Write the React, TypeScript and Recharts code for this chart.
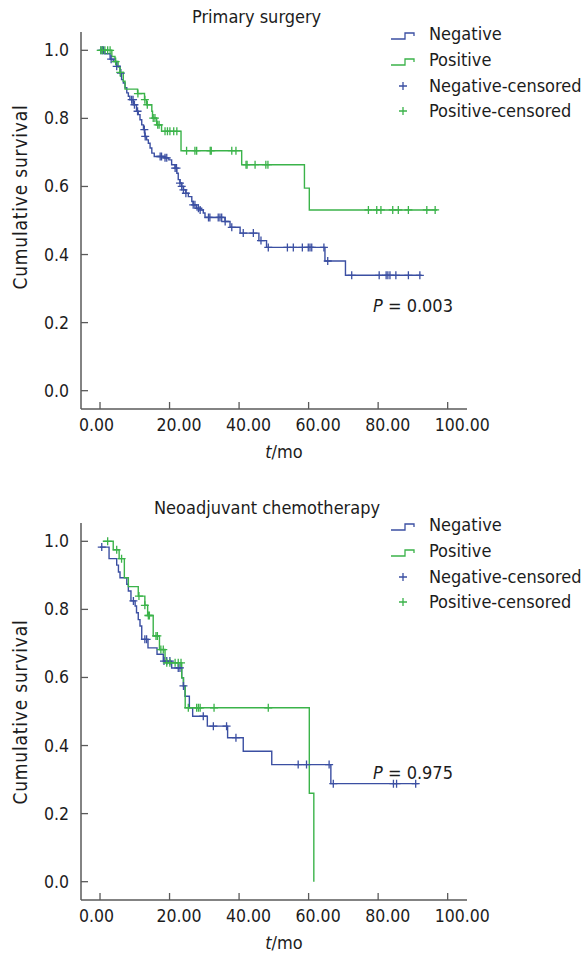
import React from 'react';
import { ComposedChart, Line, Scatter, XAxis, YAxis, Legend, Customized } from 'recharts';

const BLUE = '#3b4fa2';
const GREEN = '#3bb34a';
const AXIS = '#5a5a5a';
const INK = '#1c1c1c';
const FONT = "'DejaVu Sans Condensed', 'Liberation Sans', sans-serif";

const xTicks = [0, 20, 40, 60, 80, 100];
const yTicks = [0, 0.2, 0.4, 0.6, 0.8, 1.0];
const legendLabels = ['Negative', 'Positive', 'Negative-censored', 'Positive-censored'];

// ---------- Primary surgery ----------
const psNegTimes = [0, 1.4, 2.9, 3.8, 4.8, 5.75, 6.2, 6.7, 7.2, 7.7, 8.15, 8.6, 9.6, 10.5, 11.0, 11.5, 12.0, 12.5, 12.9, 13.4, 13.9, 14.4, 14.9, 15.6, 18.7, 19.8, 20.6, 21.6, 22.1, 22.5, 23.0, 23.5, 24.0, 24.7, 25.4, 26.4, 26.8, 27.8, 28.8, 29.7, 30.2, 35.95, 37.4, 40.3, 45.7, 47.9, 64.7, 70.6];
const psNegSurv = [1.0, 0.99, 0.974, 0.967, 0.953, 0.933, 0.914, 0.904, 0.89, 0.875, 0.865, 0.855, 0.84, 0.821, 0.811, 0.796, 0.781, 0.767, 0.747, 0.737, 0.727, 0.713, 0.698, 0.688, 0.684, 0.678, 0.664, 0.654, 0.639, 0.62, 0.61, 0.6, 0.59, 0.58, 0.57, 0.556, 0.546, 0.536, 0.531, 0.522, 0.509, 0.497, 0.48, 0.463, 0.441, 0.421, 0.381, 0.339];
const psNegEnd = 92.5;
const psNegCensored = [0.3, 0.7, 1.0, 3.2, 4.8, 6.0, 9.1, 9.5, 9.9, 10.8, 12.75, 13.0, 17.3, 17.7, 18.7, 19.2, 21.6, 22.0, 23.0, 23.5, 24.0, 24.7, 26.8, 27.3, 28.3, 28.8, 31.2, 31.6, 34.0, 34.5, 35.0, 36.0, 37.9, 41.2, 44.1, 46.3, 48.4, 53.9, 55.6, 58.2, 59.9, 60.4, 60.9, 64.4, 65.5, 72.4, 80.3, 82.3, 82.8, 83.4, 85.1, 88.7, 92.0];

const psPosTimes = [0, 3.4, 4.3, 5.2, 5.75, 6.7, 7.2, 10.8, 12.8, 13.4, 14.9, 15.1, 16.3, 17.7, 23.3, 40.75, 58.8, 60.2];
const psPosSurv = [1.0, 0.982, 0.967, 0.951, 0.935, 0.909, 0.886, 0.873, 0.855, 0.84, 0.821, 0.801, 0.781, 0.762, 0.705, 0.664, 0.595, 0.531];
const psPosEnd = 97;
const psPosCensored = [0.2, 0.7, 1.4, 2.2, 2.9, 4.5, 5.8, 10.9, 12.9, 13.6, 15.3, 15.8, 16.6, 17.0, 18.7, 19.4, 20.1, 21.2, 22.1, 24.9, 27.3, 27.8, 31.7, 32.0, 37.9, 39.1, 42.0, 42.3, 44.6, 47.7, 48.3, 77.2, 79.6, 80.8, 84.2, 85.8, 88.7, 94.0, 96.4];

// ---------- Neoadjuvant chemotherapy ----------
const neoNegTimes = [0, 2.6, 4.8, 5.3, 5.75, 7.7, 8.15, 8.9, 10.1, 10.5, 11.0, 11.5, 12.0, 13.8, 16.4, 18.2, 20.6, 23.5, 24.0, 24.45, 25.7, 26.65, 30.87, 36.7, 41.2, 49.4, 66.4];
const neoNegSurv = [0.983, 0.949, 0.93, 0.91, 0.893, 0.874, 0.854, 0.825, 0.81, 0.79, 0.77, 0.751, 0.712, 0.687, 0.668, 0.648, 0.628, 0.599, 0.575, 0.545, 0.511, 0.486, 0.457, 0.423, 0.383, 0.344, 0.288];
const neoNegEnd = 91.6;
const neoNegCensored = [0.5, 9.6, 12.9, 13.4, 18.4, 19.2, 20.1, 22.5, 23.0, 24.0, 29.7, 32.6, 36.4, 39.1, 57.0, 59.4, 65.9, 67.1, 84.4, 85.3, 90.8];

const neoPosTimes = [0.8, 3.8, 5.5, 7.0, 8.15, 11.0, 12.9, 13.7, 15.3, 17.1, 18.7, 23.5, 24.0, 24.5, 60.2, 61.5];
const neoPosSurv = [1.0, 0.975, 0.949, 0.893, 0.867, 0.839, 0.812, 0.782, 0.722, 0.682, 0.643, 0.599, 0.575, 0.511, 0.26, 0.0];
const neoPosEnd: number | null = null;
const neoPosCensored = [2.2, 4.8, 6.2, 11.2, 12.9, 13.9, 14.2, 16.1, 16.5, 17.5, 18.2, 19.2, 20.1, 21.6, 22.5, 23.3, 25.4, 27.8, 28.3, 28.8, 32.8, 48.4];

type Pt = { t: number; s: number };

function buildSteps(times: number[], surv: number[], end: number | null): Pt[] {
  const pts = times.map((t, i) => ({ t, s: surv[i] }));
  if (end != null) pts.push({ t: end, s: surv[surv.length - 1] });
  return pts;
}

function buildCensored(cens: number[], times: number[], surv: number[]): Pt[] {
  return cens.map((t) => {
    let s = surv[0];
    for (let i = 0; i < times.length; i++) if (times[i] <= t) s = surv[i];
    return { t, s };
  });
}

const CHART_W = 587;
const CHART_H = 480;

const XTick = (props: any) => {
  const { x, y, payload } = props;
  const v = payload.value as number;
  const dx = v === 0 ? -21 : -13;
  return (
    <g>
      <line x1={x} x2={x} y1={y} y2={y - 7} stroke={AXIS} strokeWidth={1.3} />
      <text x={x + dx} y={y + 22} fontSize={17.5} fill={INK} fontFamily={FONT} textAnchor="start">
        {v.toFixed(2)}
      </text>
    </g>
  );
};

const YTick = (props: any) => {
  const { x, y, payload } = props;
  const v = payload.value as number;
  return (
    <g>
      <line x1={x} x2={x + 7} y1={y} y2={y} stroke={AXIS} strokeWidth={1.3} />
      <text x={x - 12} y={y + 6} fontSize={17.5} fill={INK} fontFamily={FONT} textAnchor="end">
        {v.toFixed(1)}
      </text>
    </g>
  );
};

const plusShape = (color: string) => (props: any) => {
  const { cx, cy } = props;
  if (cx == null || cy == null) return <g />;
  return (
    <path d={`M${cx - 4},${cy}H${cx + 4}M${cx},${cy - 4}V${cy + 4}`} stroke={color} strokeWidth={1.3} fill="none" />
  );
};

const LegendBox = () => {
  const rows = [34, 60, 86, 111];
  const colors = [BLUE, GREEN, BLUE, GREEN];
  return (
    <svg width={207} height={125} style={{ display: 'block', overflow: 'visible' }}>
      {legendLabels.map((label, i) => {
        const cy = rows[i];
        const isLine = i < 2;
        return (
          <g key={label}>
            {isLine ? (
              <path
                d={`M11,${cy + 5}H25V${cy - 1}H34V${cy + 2}`}
                stroke={colors[i]}
                strokeWidth={1.3}
                fill="none"
              />
            ) : (
              <path d={`M19,${cy}H27M23,${cy - 4}V${cy + 4}`} stroke={colors[i]} strokeWidth={1.3} fill="none" />
            )}
            <text x={49} y={cy + 6} fontSize={18} fontFamily={FONT} fill={INK}>
              {label}
            </text>
          </g>
        );
      })}
    </svg>
  );
};

type PanelProps = {
  title: string;
  titleX: number;
  pValue: string;
  pY: number;
  yLabelY: number;
  neg: Pt[];
  pos: Pt[];
  negC: Pt[];
  posC: Pt[];
};

const Panel = ({ title, titleX, pValue, pY, yLabelY, neg, pos, negC, posC }: PanelProps) => (
  <ComposedChart width={CHART_W} height={CHART_H} margin={{ top: 32, right: 120, bottom: 41, left: 21 }}>
    <XAxis
      type="number"
      dataKey="t"
      domain={[-5.47, 105.56]}
      ticks={xTicks}
      allowDataOverflow
      height={30}
      tickSize={0}
      tickMargin={0}
      tickLine={false}
      tick={<XTick />}
      axisLine={{ stroke: AXIS, strokeWidth: 1.5 }}
      interval={0}
    />
    <YAxis
      type="number"
      dataKey="s"
      domain={[-0.0538, 1.0538]}
      ticks={yTicks}
      allowDataOverflow
      width={60}
      tickSize={0}
      tickMargin={0}
      tickLine={false}
      tick={<YTick />}
      axisLine={{ stroke: AXIS, strokeWidth: 1.5 }}
      interval={0}
    />
    <Line data={neg} dataKey="s" type="stepAfter" stroke={BLUE} strokeWidth={1.4} dot={false} activeDot={false} isAnimationActive={false} />
    <Line data={pos} dataKey="s" type="stepAfter" stroke={GREEN} strokeWidth={1.4} dot={false} activeDot={false} isAnimationActive={false} />
    <Scatter data={negC} dataKey="s" shape={plusShape(BLUE)} isAnimationActive={false} />
    <Scatter data={posC} dataKey="s" shape={plusShape(GREEN)} isAnimationActive={false} />
    <Legend
      layout="horizontal"
      verticalAlign="middle"
      align="center"
      content={() => <LegendBox />}
      wrapperStyle={{ position: 'absolute', left: 380, top: 0, width: 207, height: 125 }}
    />
    <Customized
      component={() => (
        <g fontFamily={FONT} fill={INK}>
          <text x={titleX} y={23} fontSize={18}>{title}</text>
          <text
            x={0}
            y={0}
            fontSize={19}
            letterSpacing={0.8}
            textAnchor="middle"
            transform={`translate(27, ${yLabelY}) rotate(-90)`}
          >
            Cumulative survival
          </text>
          <text x={284} y={458} fontSize={18} textAnchor="middle">
            <tspan fontStyle="italic">t</tspan>/mo
          </text>
          <text x={373} y={pY} fontSize={18}>
            <tspan fontStyle="italic">P</tspan> = {pValue}
          </text>
        </g>
      )}
    />
  </ComposedChart>
);

const psNeg = buildSteps(psNegTimes, psNegSurv, psNegEnd);
const psPos = buildSteps(psPosTimes, psPosSurv, psPosEnd);
const psNegC = buildCensored(psNegCensored, psNegTimes, psNegSurv);
const psPosC = buildCensored(psPosCensored, psPosTimes, psPosSurv);

const neoNeg = buildSteps(neoNegTimes, neoNegSurv, neoNegEnd);
const neoPos = buildSteps(neoPosTimes, neoPosSurv, neoPosEnd);
const neoNegC = buildCensored(neoNegCensored, neoNegTimes, neoNegSurv);
const neoPosC = buildCensored(neoPosCensored, neoPosTimes, neoPosSurv);

export default function App() {
  return (
    <div style={{ position: 'absolute', left: 0, top: 0, width: 587, height: 953, background: '#fff', overflow: 'hidden' }}>
      <div style={{ position: 'absolute', left: 0, top: 0 }}>
        <Panel title="Primary surgery" titleX={192} pValue="0.003" pY={312} yLabelY={197} neg={psNeg} pos={psPos} negC={psNegC} posC={psPosC} />
      </div>
      <div style={{ position: 'absolute', left: 0, top: 491 }}>
        <Panel title="Neoadjuvant chemotherapy" titleX={154} pValue="0.975" pY={288} yLabelY={221} neg={neoNeg} pos={neoPos} negC={neoNegC} posC={neoPosC} />
      </div>
    </div>
  );
}
